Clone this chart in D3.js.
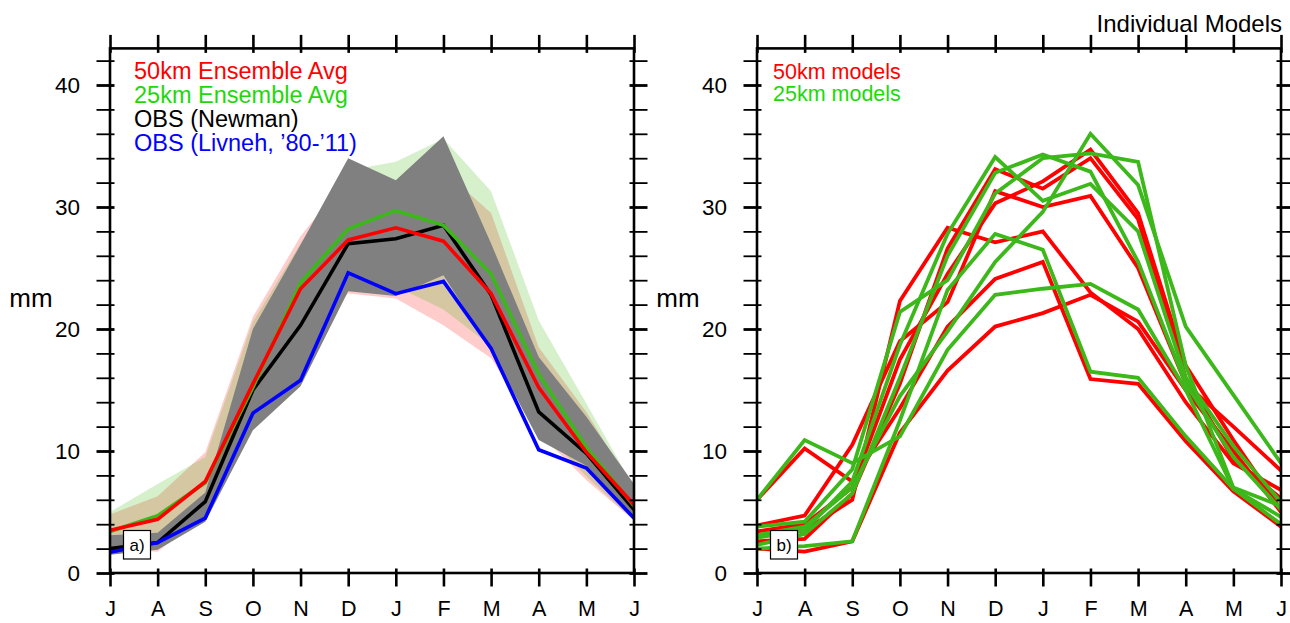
<!DOCTYPE html>
<html><head><meta charset="utf-8">
<script src="https://cdn.jsdelivr.net/npm/d3@7"></script>
<style>
body{margin:0;background:#fff}
svg{display:block}
text{font-family:"Liberation Sans",Arial,Helvetica,sans-serif}
</style>
</head><body>
<svg id="c" width="1290" height="623"></svg>
<script>
// ---------- data ----------
const months = ["J","A","S","O","N","D","J","F","M","A","M","J"];
const yMajor = [0,10,20,30,40];
const yMinor = [2,4,6,8,12,14,16,18,22,24,26,28,32,34,36,38,42];

// panel a) lines
const ens50  = [3.5, 4.4, 7.5, 15.5, 23.3, 27.3, 28.3, 27.2, 22.9, 15.2, 9.9, 5.6];
const ens25  = [3.4, 4.7, 7.4, 15.2, 23.8, 28.2, 29.7, 28.5, 24.5, 16.3, 10.3, 5.5];
const newman = [2.0, 2.5, 5.85, 15.0, 20.3, 27.0, 27.4, 28.5, 22.8, 13.2, 9.8, 5.2];
const livneh = [1.7, 2.5, 4.5, 13.1, 15.8, 24.6, 22.9, 23.9, 18.4, 10.1, 8.6, 4.5];
// panel a) shaded ranges
const band50Hi = [4.8, 6.3, 9.9, 21.0, 27.6, 32.5, 32.0, 33.0, 29.5, 18.5, 13.2, 6.8];
const band50Lo = [2.0, 1.75, 4.8, 12.5, 19.0, 22.9, 22.5, 20.3, 17.6, 11.5, 7.6, 4.3];
const band25Hi = [5.0, 7.3, 9.5, 20.6, 27.0, 33.0, 33.7, 35.6, 31.3, 20.7, 13.9, 7.0];
const band25Lo = [2.3, 2.8, 5.0, 13.0, 20.0, 23.5, 23.5, 21.6, 18.6, 12.0, 7.9, 4.3];
const newmanHi = [3.1, 3.3, 6.6, 20.0, 26.9, 34.0, 32.2, 35.8, 27.0, 17.7, 12.8, 7.3];
const newmanLo = [1.5, 1.9, 4.2, 11.7, 15.3, 23.1, 22.7, 24.4, 18.3, 10.9, 8.8, 4.3];

// panel b) individual models
const models50 = [
  [3.4, 4.0, 7.0, 17.5, 24.5, 30.3, 32.1, 34.7, 29.5, 17.0, 10.9, 5.2],
  [2.6, 2.8, 6.5, 15.5, 26.6, 33.1, 31.5, 34.0, 29.0, 16.0, 9.3, 6.1],
  [3.9, 4.7, 10.5, 19.0, 22.2, 31.3, 30.0, 30.9, 25.0, 15.5, 12.0, 8.4],
  [3.0, 3.5, 6.0, 22.3, 28.3, 27.1, 28.0, 23.0, 20.0, 14.0, 9.0, 6.8],
  [6.0, 10.2, 7.5, 13.5, 20.2, 24.1, 25.5, 15.9, 15.5, 10.8, 6.7, 3.8],
  [2.0, 1.75, 2.6, 11.5, 16.6, 20.2, 21.3, 22.8, 20.6, 15.0, 10.0, 5.0]
];
const models25 = [
  [2.9, 3.5, 7.5, 18.7, 27.8, 34.1, 30.5, 31.9, 28.0, 16.0, 10.4, 5.8],
  [2.3, 3.2, 6.5, 16.0, 26.0, 32.8, 34.3, 32.9, 25.5, 15.5, 9.5, 5.2],
  [3.8, 4.2, 8.5, 21.4, 24.0, 31.1, 34.0, 34.4, 33.7, 17.0, 7.0, 5.5],
  [3.1, 3.8, 7.0, 14.5, 19.8, 25.5, 29.6, 36.0, 31.8, 20.2, 14.6, 9.0],
  [6.0, 10.9, 9.0, 11.2, 18.3, 22.8, 23.3, 23.7, 21.6, 15.0, 6.9, 4.6],
  [2.0, 2.2, 2.6, 12.5, 23.2, 27.8, 26.5, 16.5, 16.0, 11.2, 6.9, 4.0]
];

// ---------- drawing ----------
const svg = d3.select("#c");
const FONT = '"Liberation Sans",Arial,Helvetica,sans-serif';
const RED = "#ff0000", GRN = "#3cb81a", GRNTXT = "#1ed80a", BLUE = "#0000ff";
const yMax = 43;
const y = d3.scaleLinear().domain([0, yMax]).range([573, 573 - yMax * 12.2]);
const idx = d3.range(12);

function makeX(x0, x1){ return d3.scalePoint().domain(idx).range([x0, x1]); }

function clip(id, x){
  svg.append("clipPath").attr("id", id).append("rect")
    .attr("x", x.range()[0]).attr("y", y(yMax))
    .attr("width", x.range()[1]-x.range()[0]).attr("height", y(0)-y(yMax));
}

function axes(x){
  const [x0, x1] = x.range();
  const OUT = 13.5, IN = 4.5;
  // bottom
  const gb = svg.append("g").attr("transform", `translate(0,${y(0)})`)
    .call(d3.axisBottom(x).tickValues(idx).tickFormat(i => months[i])
      .tickSize(OUT).tickSizeOuter(0).tickPadding(14.5));
  gb.select(".domain").remove();
  gb.selectAll(".tick line").attr("y1", -IN).attr("stroke-width", 2.6);
  gb.attr("font-size", 21.5).attr("font-family", FONT);
  gb.selectAll("text").attr("fill", "#000");
  // top
  const gt = svg.append("g").attr("transform", `translate(0,${y(yMax)})`)
    .call(d3.axisTop(x).tickValues(idx).tickFormat("").tickSize(OUT).tickSizeOuter(0));
  gt.select(".domain").remove();
  gt.selectAll(".tick line").attr("y1", IN).attr("stroke-width", 2.6);
  // left major with labels
  const gl = svg.append("g").attr("transform", `translate(${x0},0)`)
    .call(d3.axisLeft(y).tickValues(yMajor).tickFormat(d3.format("d"))
      .tickSize(OUT).tickSizeOuter(0).tickPadding(16.5));
  gl.select(".domain").remove();
  gl.selectAll(".tick line").attr("x1", IN).attr("stroke-width", 2.8);
  gl.attr("font-size", 22.5).attr("font-family", FONT);
  gl.selectAll("text").attr("fill", "#000");
  // left minor
  const glm = svg.append("g").attr("transform", `translate(${x0},0)`)
    .call(d3.axisLeft(y).tickValues(yMinor).tickFormat("").tickSize(OUT).tickSizeOuter(0));
  glm.select(".domain").remove();
  glm.selectAll(".tick line").attr("x1", IN).attr("stroke-width", 1.8);
  // right major + minor
  const gr = svg.append("g").attr("transform", `translate(${x1},0)`)
    .call(d3.axisRight(y).tickValues(yMajor).tickFormat("").tickSize(OUT).tickSizeOuter(0));
  gr.select(".domain").remove();
  gr.selectAll(".tick line").attr("x1", -IN).attr("stroke-width", 2.8);
  const grm = svg.append("g").attr("transform", `translate(${x1},0)`)
    .call(d3.axisRight(y).tickValues(yMinor).tickFormat("").tickSize(OUT).tickSizeOuter(0));
  grm.select(".domain").remove();
  grm.selectAll(".tick line").attr("x1", -IN).attr("stroke-width", 1.8);
  // frame
  svg.append("rect").attr("x", x0).attr("y", y(yMax))
    .attr("width", x1 - x0).attr("height", y(0) - y(yMax))
    .attr("fill", "none").attr("stroke", "#000").attr("stroke-width", 2.6);
  // y title
  svg.append("text").attr("x", x0 - 79).attr("y", 307)
    .attr("text-anchor", "middle").attr("font-size", 26).attr("font-family", FONT)
    .text("mm");
}

function panelLabel(x, label){
  const x0 = x.range()[0];
  svg.append("rect").attr("x", x0 + 13.5).attr("y", 530.5).attr("width", 27).attr("height", 28.5)
    .attr("fill", "#fff").attr("stroke", "#000").attr("stroke-width", 1.2);
  svg.append("text").attr("x", x0 + 27).attr("y", 551).attr("text-anchor", "middle")
    .attr("font-size", 17).attr("font-family", FONT).text(label);
}

const line = x => d3.line().x((d,i) => x(i)).y(d => y(d));
const area = (x, lo, hi) => d3.area().x((d,i) => x(i)).y0((d,i) => y(lo[i])).y1((d,i) => y(hi[i]));

// ---- panel a ----
const xa = makeX(110, 634);
clip("clipA", xa);
const ga = svg.append("g").attr("clip-path", "url(#clipA)");
ga.append("path").datum(idx).attr("d", area(xa, band50Lo, band50Hi)).attr("fill", "rgb(255,0,0)").attr("fill-opacity", 0.2);
ga.append("path").datum(idx).attr("d", area(xa, band25Lo, band25Hi)).attr("fill", "rgb(51,181,0)").attr("fill-opacity", 0.2);
ga.append("path").datum(idx).attr("d", area(xa, newmanLo, newmanHi)).attr("fill", "#808080");
[[newman,"#000"],[livneh,BLUE],[ens25,GRN],[ens50,RED]].forEach(([d,c]) => {
  ga.append("path").datum(d).attr("d", line(xa)).attr("fill","none").attr("stroke",c).attr("stroke-width",3.6);
});
axes(xa);
panelLabel(xa, "a)");
const legA = [["50km Ensemble Avg", RED],["25km Ensemble Avg", GRNTXT],["OBS (Newman)", "#000"],["OBS (Livneh, \u201980-\u201911)", BLUE]];
legA.forEach(([t,c],i) => {
  svg.append("text").attr("x", 134).attr("y", 79 + i*24).attr("font-size", 23.5)
    .attr("font-family", FONT).attr("fill", c).text(t);
});

// ---- panel b ----
const xb = makeX(757, 1281);
clip("clipB", xb);
const gbp = svg.append("g").attr("clip-path", "url(#clipB)");
models50.forEach(d => gbp.append("path").datum(d).attr("d", line(xb)).attr("fill","none").attr("stroke",RED).attr("stroke-width",3.8));
models25.forEach(d => gbp.append("path").datum(d).attr("d", line(xb)).attr("fill","none").attr("stroke",GRN).attr("stroke-width",3.8));
axes(xb);
panelLabel(xb, "b)");
[["50km models", RED],["25km models", GRNTXT]].forEach(([t,c],i) => {
  svg.append("text").attr("x", 773).attr("y", 79 + i*22).attr("font-size", 21.5)
    .attr("font-family", FONT).attr("fill", c).text(t);
});
svg.append("text").attr("x", 1282).attr("y", 32).attr("text-anchor", "end")
  .attr("font-size", 24).attr("font-family", FONT).text("Individual Models");
</script>
</body></html>
